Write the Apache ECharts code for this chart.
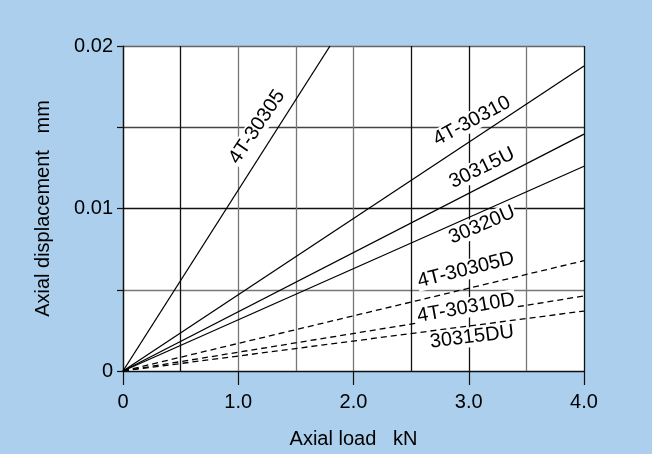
<!DOCTYPE html>
<html><head><meta charset="utf-8">
<script src="https://cdn.jsdelivr.net/npm/echarts@6/dist/echarts.min.js"></script>
<style>html,body{margin:0;padding:0;background:#abcfec}#c{width:652px;height:454px}</style>
</head><body><div id="c"></div>
<script>
// Series names
const names = ['4T-30305','4T-30310','30315U','30320U','4T-30305D','4T-30310D','30315DU'];
// End points of each straight line (start at origin): [load kN, displacement mm]
const endLoad = [1.796, 4.0, 4.0, 4.0, 4.0, 4.0, 4.0];
const endDisp = [0.0200, 0.01877, 0.01458, 0.0126, 0.00679, 0.00462, 0.00369];
const dashed = [false,false,false,false,true,true,true];
// Label anchor positions in data coords and rotation
const labelX = [1.163, 3.028, 3.115, 3.115, 2.976, 2.976, 3.028];
const labelY = [0.01502, 0.01538, 0.01249, 0.00898, 0.00622, 0.00388, 0.00209];
const labelRot = [56, 28, 26, 23, 14, 10, 7];
// Tick labels
const xTicks = ['0','1.0','2.0','3.0','4.0'];
const yTicks = ['0','0.01','0.02'];

const FONT = 'Liberation Sans';
const chart = echarts.init(document.getElementById('c'));
const series = [];
names.forEach((n,i)=>{
  series.push({
    name:n, type:'line', xAxisIndex:0, yAxisIndex:0, symbol:'none', silent:true,
    data:[[0,0],[endLoad[i],endDisp[i]]],
    lineStyle:{color:'#000', width:1.3, type: dashed[i]?[6,4]:'solid'},
    z:3
  });
});
series.push({
  type:'scatter', xAxisIndex:0, yAxisIndex:0, symbolSize:0, silent:true, z:5,
  itemStyle:{opacity:1},
  data: names.map((n,i)=>({value:[labelX[i],labelY[i]],
    label:{show:true, formatter:n, rotate:labelRot[i], position:'inside',
      fontFamily:FONT, fontSize:20, color:'#000', opacity:1, backgroundColor:'#fff', padding:[0,1]}}))
});

chart.setOption({
  backgroundColor:'#abcfec',
  animation:false,
  grid:{left:123, right:68, top:46, bottom:83, show:true, backgroundColor:'#fff', borderWidth:0},
  xAxis:[{
    type:'value', min:0, max:4, interval:1,
    name:'Axial load   kN', nameLocation:'middle', nameGap:58,
    nameTextStyle:{fontFamily:FONT, fontSize:20, color:'#000'},
    axisLine:{lineStyle:{color:'#111', width:1.2}},
    axisTick:{show:true, length:14, lineStyle:{color:'#111', width:1.2}},
    axisLabel:{margin:21, fontFamily:FONT, fontSize:20, color:'#000',
      formatter:v=>xTicks[Math.round(v)]},
    splitLine:{show:false}
  },{
    type:'value', min:0, max:4, interval:0.5, position:'bottom',
    axisLine:{show:false}, axisTick:{show:false}, axisLabel:{show:false},
    splitLine:{show:true, lineStyle:{width:1.3,
      color:['#111','#111','#777','#777','#777','#111','#111','#777','#111']}}
  }],
  yAxis:[{
    type:'value', min:0, max:0.02, interval:0.005,
    name:'Axial displacement   mm', nameLocation:'middle', nameGap:70, nameRotate:90,
    nameTextStyle:{fontFamily:FONT, fontSize:20, color:'#000'},
    axisLine:{show:true, lineStyle:{color:'#111', width:1.2}},
    axisTick:{show:true, length:6, lineStyle:{color:'#111', width:1.2}},
    axisLabel:{margin:10, fontFamily:FONT, fontSize:20, color:'#000',
      formatter:v=>{const k=Math.round(v/0.005); return k%2===0? yTicks[k/2] : '';}},
    splitLine:{show:true, lineStyle:{width:1.3, color:['#111','#777','#111','#444','#666']}}
  }],
  series:series
});
</script></body></html>
